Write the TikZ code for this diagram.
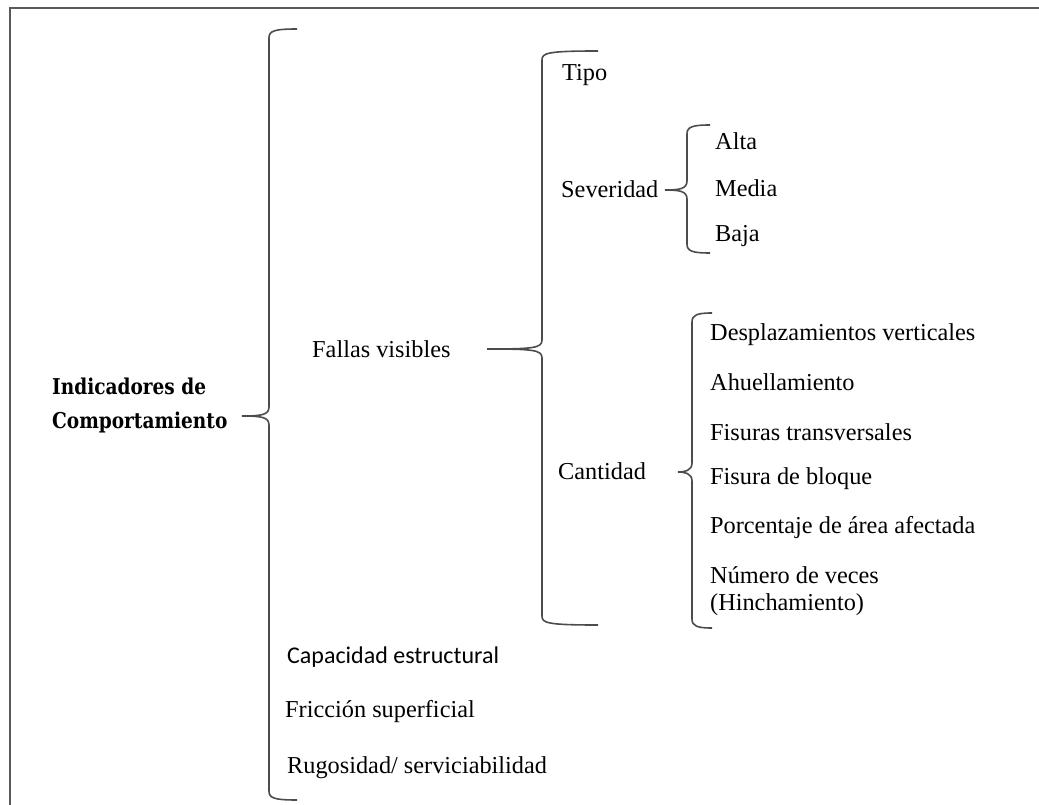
\documentclass[tikz,border=0pt]{standalone}
\usepackage{fontspec}
\setmainfont{Liberation Serif}
\newfontfamily\dejavuserif{DejaVu Serif}
\newfontfamily\calibri{Carlito}
\newcommand{\negrita}[1]{\scalebox{0.85}[1]{\dejavuserif\bfseries\fontsize{21.8}{34}\selectfont #1}}
\usepackage{tikz}
\usetikzlibrary{positioning}
\tikzstyle{item} = [anchor=west,inner sep=0pt,font=\fontsize{24.3}{27}\selectfont,align=left]
\tikzstyle{llave} = [draw=black!70,line width=1.6pt]
\tikzstyle{marco} = [draw=black!65,line width=1.6pt]
% brace: x of the line, top, bottom, x of the ends, x and y of the tip
\newcommand{\llave}[6]{%
	\draw[llave] (#4,#2) .. controls (#1+5,#2) and (#1,#2+2) .. (#1,#2+9) -- (#1,#6-9)
	.. controls (#1,#6-1) and (#1-8,#6) .. (#5,#6)
	.. controls (#1-8,#6) and (#1,#6+1) .. (#1,#6+9) -- (#1,#3-9)
	.. controls (#1,#3-2) and (#1+5,#3) .. (#4,#3);
}

\begin{document}
\begin{tikzpicture}[x=1pt,y=-1pt]
	\useasboundingbox (0,0) rectangle (1039,805);
	% Frame (only top and left are seen):
	\draw[marco] (10,805) -- (10,8) -- (1039,8);
	
	% Root:
	\node[item,font=\fontsize{24}{34}\selectfont] (ind) at (52,405) {\negrita{Indicadores de}\\\negrita{Comportamiento}};
	
	% First level:
	\node[item] (fallas) at (312,349) {Fallas visibles};
	\node[item,font=\calibri\fontsize{24}{27}\selectfont] (cap) at (287,657) {Capacidad estructural};
	\node[item] (fric) at (285,712) {Fricción superficial};
	\node[item] (rug) at (287,768) {Rugosidad/ serviciabilidad};
	
	% Second level:
	\node[item] (tipo) at (562,75) {Tipo};
	\node[item] (sev) at (561,189) {Severidad};
	\node[item] (cant) at (558,471) {Cantidad};
	
	% Third level (Severidad):
	\node[item] (alta) at (715,141) {Alta};
	\node[item] (media) at (715,188) {Media};
	\node[item] (baja) at (715,236) {Baja};
	
	% Third level (Cantidad):
	\node[item] (desp) at (710,335) {Desplazamientos verticales};
	\node[item] (ahue) at (710,382) {Ahuellamiento};
	\node[item] (fist) at (710,432) {Fisuras transversales};
	\node[item] (fisb) at (710,479) {Fisura de bloque};
	\node[item] (porc) at (710,528) {Porcentaje de área afectada};
	\node[item] (num) at (710,591) {Número de veces\\(Hinchamiento)};
	
	% Braces:
	\llave{269}{29}{800}{297}{242}{416}
	\llave{542}{51}{625}{598}{487}{349}
	\llave{687}{125}{253}{710}{665}{190}
	\llave{692}{313}{628}{712}{678}{472}
\end{tikzpicture}
\end{document}
